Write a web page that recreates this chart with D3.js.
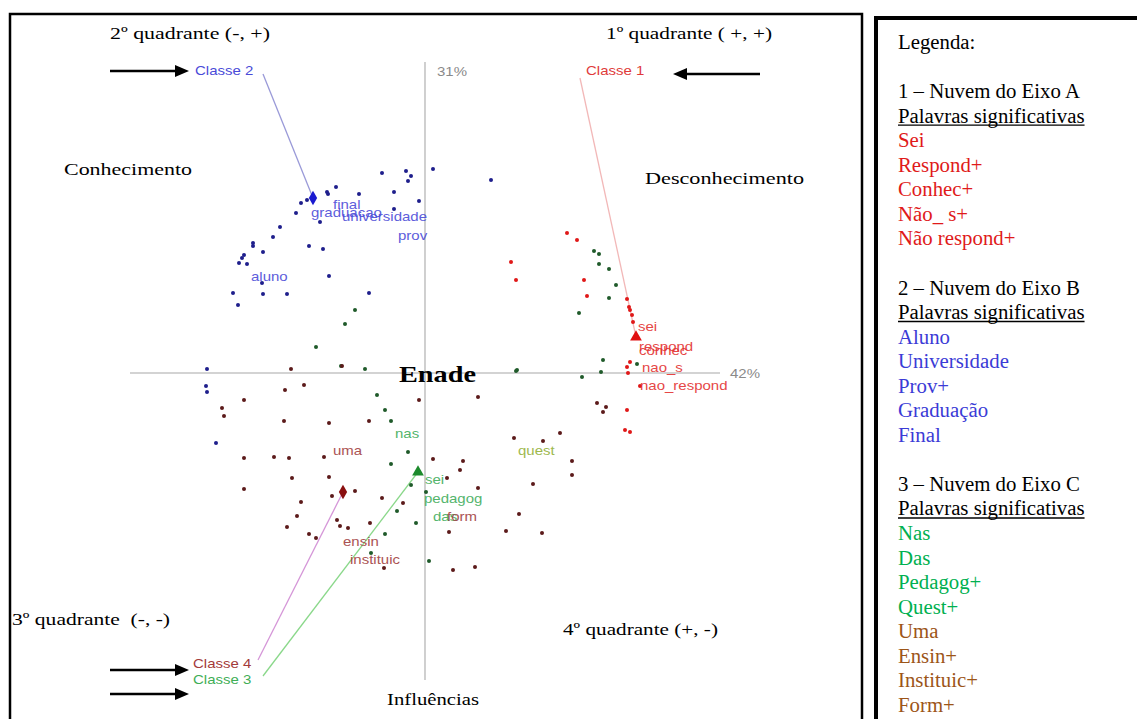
<!DOCTYPE html>
<html><head><meta charset="utf-8">
<script src="https://cdn.jsdelivr.net/npm/d3@7"></script>
<style>
html,body{margin:0;padding:0;background:#fff;}
svg{display:block;}
</style></head>
<body>
<svg id="c" width="1137" height="719"></svg>
<script>
// ---------- DATA (factor plane coordinates) ----------
const class1Points = [[142,140],[152,133],[86,111],[91,93],[159,93],[162,77],[202,74],[204,66],[205,63],[207,58],[208,51],[205,11],[202,6],[203,0],[215,-13],[202,-37],[200,-57],[205,-59]];
const class2Points = [[-43,200],[-19,202],[-14,197],[-17,192],[8,204],[66,193],[-89,186],[-98,181],[-97,179],[-66,179],[-31,181],[-6,172],[-118,173],[-124,170],[-129,160],[-105,151],[-31,164],[-145,146],[-152,136],[-172,130],[-172,127],[-162,121],[-181,118],[-183,115],[-186,110],[-178,109],[-116,127],[-102,124],[-96,97],[-163,90],[-192,80],[-162,79],[-138,79],[-56,80],[-187,68],[-218,4],[-219,-13],[-218,-19],[-209,-70]];
const class3Points = [[-70,63],[-80,49],[-109,26],[-84,7],[-60,4],[-48,-22],[-40,-37],[-34,-48],[-17,-79],[-34,-91],[-14,-112],[-28,-138],[-40,-161],[-54,-180],[4,-188],[1,-119],[-9,-150],[92,3],[169,122],[174,119],[174,109],[184,104],[191,88],[184,75],[154,60],[178,13],[212,9],[91,2],[157,-4],[176,1]];
const class4Points = [[-134,4],[-83,7],[-140,-17],[-121,-12],[-181,-27],[-6,-27],[-203,-35],[-201,-43],[-141,-48],[-96,-50],[-56,-48],[53,-24],[-181,-85],[-151,-84],[-136,-85],[-101,-84],[8,-86],[38,-88],[35,-97],[-133,-105],[-96,-104],[53,-115],[-181,-116],[-93,-123],[-70,-118],[-43,-125],[-22,-130],[-124,-129],[-128,-143],[-88,-147],[-85,-153],[-77,-155],[-55,-150],[-138,-154],[-116,-161],[-109,-165],[24,-159],[-41,-195],[28,-197],[50,-194],[22,-105],[89,-65],[118,-68],[135,-60],[147,-88],[147,-102],[108,-111],[94,-141],[81,-158],[117,-160],[172,-30],[181,-34],[178,-39]];

const classNames = ["Classe 1","Classe 2","Classe 3","Classe 4"];
const classCenters = [[211,36],[-112,175],[-7,-99],[-82,-119]];
const classLabelPos = [[161,298],[-230,298],[-232,-311],[-232,-295]];
const classLineStart = [[155,295],[-162,299],[-162,-303],[-167,-287]];

const class1Words = ["sei","respond","conhec","nao_s","nao_respond"];
const class1WordPos = [[213,42],[214,22],[214,18],[217,1],[215,-17]];
const class2Words = ["final","graduacao","universidade","prov","aluno"];
const class2WordPos = [[-92,164],[-114,156],[-83,152],[-27,133],[-174,92]];
const class3Words = ["nas","sei","pedagog","das","quest"];
const class3WordPos = [[-30,-65],[0,-111],[-1,-130],[8,-148],[93,-82]];
const class4Words = ["uma","ensin","instituic","form"];
const class4WordPos = [[-92,-82],[-82,-173],[-75,-191],[22,-148]];

const axisPercent = ["42%","31%"];

const legendTitle = "Legenda:";
const legendGroups = ["1 – Nuvem do Eixo A","2 – Nuvem do Eixo B","3 – Nuvem do Eixo C"];
const legendSub = "Palavras significativas";
const legendWordsA = ["Sei","Respond+","Conhec+","Não_ s+","Não respond+"];
const legendWordsB = ["Aluno","Universidade","Prov+","Graduação","Final"];
const legendWordsCgreen = ["Nas","Das","Pedagog+","Quest+"];
const legendWordsCbrown = ["Uma","Ensin+","Instituic+","Form+"];

const quadrantTexts = ["1º quadrante ( +, +)","2º quadrante (-, +)","3º quadrante  (-, -)","4º quadrante (+, -)"];
const axisNames = ["Conhecimento","Desconhecimento","Influências","Enade"];

// ---------- DRAW ----------
const svg = d3.select("#c");
const x = d3.scaleLinear().domain([-300,300]).range([125,725]);
const y = d3.scaleLinear().domain([-310,310]).range([683,63]);

const SANS = "'Liberation Sans', Arial, sans-serif";
const SERIF = "'Liberation Serif', 'Times New Roman', serif";

// chart box
svg.append("rect").attr("x",10).attr("y",14).attr("width",852).attr("height",760)
  .attr("fill","none").attr("stroke","#000").attr("stroke-width",2.5);
// legend box
svg.append("rect").attr("x",876).attr("y",18).attr("width",300).attr("height",760)
  .attr("fill","none").attr("stroke","#000").attr("stroke-width",4);

// axes
svg.append("line").attr("x1",x(0)).attr("x2",x(0)).attr("y1",y(311)).attr("y2",y(-307))
  .attr("stroke","#c4c4c4").attr("stroke-width",1.6);
svg.append("line").attr("x1",x(-295)).attr("x2",x(295)).attr("y1",y(0)).attr("y2",y(0))
  .attr("stroke","#c4c4c4").attr("stroke-width",1.6);

function sText(px,py,txt,size,color,weight){
  return svg.append("text").attr("transform",`translate(${px},${py}) scale(1.2,1)`)
    .attr("font-family",SANS).attr("font-size",size).attr("fill",color)
    .attr("font-weight",weight||"normal").style("white-space","pre").text(txt);
}
sText(x(305),y(-5),axisPercent[0],12.5,"#8a8a8a");
sText(x(12),y(297),axisPercent[1],12.5,"#8a8a8a");

// class lines
const classColors = ["#e03a3a","#4a4ad8","#3fae56","#a33a3a"];
const lineColors = ["#f2b8b8","#9a9ad8","#8ad88a","#d596d8"];
classLineStart.forEach((s,i)=>{
  svg.append("line").attr("x1",x(s[0])).attr("y1",y(s[1]))
    .attr("x2",x(classCenters[i][0])).attr("y2",y(classCenters[i][1]))
    .attr("stroke",lineColors[i]).attr("stroke-width",1.3);
});

// points
const dotColors = ["#e01818","#1e1e8c","#1f5a2a","#5c1a1a"];
[class1Points,class2Points,class3Points,class4Points].forEach((pts,i)=>{
  svg.append("g").selectAll("circle").data(pts).join("circle")
    .attr("cx",d=>x(d[0])).attr("cy",d=>y(d[1])).attr("r",2)
    .attr("fill",dotColors[i]);
});

// class centers
const centerSymbols = [d3.symbolTriangle,d3.symbolDiamond,d3.symbolTriangle,d3.symbolDiamond];
const centerColors = ["#e01010","#1a1ad0","#1c8a2c","#8a0f0f"];
classCenters.forEach((c,i)=>{
  svg.append("path").attr("d",d3.symbol().type(centerSymbols[i]).size(60)())
    .attr("transform",`translate(${x(c[0])},${y(c[1])})`).attr("fill",centerColors[i]);
});

// class labels
classNames.forEach((n,i)=>{
  sText(x(classLabelPos[i][0]),y(classLabelPos[i][1]),n,12.5,classColors[i]);
});

// word labels
function words(ws,pos,color){
  ws.forEach((w,i)=>sText(x(pos[i][0]),y(pos[i][1]),w,12.5,typeof color==="function"?color(i):color).attr("opacity",0.9));
}
words(class1Words,class1WordPos,"#e43232");
words(class2Words,class2WordPos,"#4c4cd8");
words(class3Words,class3WordPos,i=> i===4 ? "#94b23a" : "#42ad5c");
words(class4Words,class4WordPos,"#a34242");

// serif annotations
function serif(px,py,txt,size,len,weight){
  svg.append("text").attr("x",px).attr("y",py).attr("font-family",SERIF)
    .attr("font-size",size).attr("font-weight",weight||"normal").attr("fill","#000")
    .attr("textLength",len).attr("lengthAdjust","spacingAndGlyphs")
    .style("white-space","pre").text(txt);
}
serif(606,39,quadrantTexts[0],17,166);
serif(110,39,quadrantTexts[1],17,160);
serif(12,625,quadrantTexts[2],17,158);
serif(563,635,quadrantTexts[3],17,155);
serif(64,175,axisNames[0],17,128);
serif(645,184,axisNames[1],17,159);
serif(387,705,axisNames[2],17,92);
serif(399,382,axisNames[3],24,77,"bold");

// arrows
function arrow(x1,x2,yy){
  const dir = x2>x1?1:-1;
  const hx = x2 - dir*14;
  svg.append("line").attr("x1",x1).attr("x2",hx).attr("y1",yy).attr("y2",yy)
    .attr("stroke","#000").attr("stroke-width",2.4);
  svg.append("path").attr("d",`M${x2},${yy} L${hx},${yy-6} L${hx},${yy+6} Z`).attr("fill","#000");
}
arrow(110,189,71);
arrow(760,673,74);
arrow(110,189,670);
arrow(110,189,694);

// legend
const LX = 898, L0 = 49, LS = 24.55;
function lg(i,txt,color,under){
  const t = svg.append("text").attr("x",LX).attr("y",L0+i*LS).attr("font-family",SERIF)
    .attr("font-size",20.8).attr("fill",color).text(txt);
  if(under){
    const w = t.node().getComputedTextLength();
    svg.append("line").attr("x1",LX).attr("x2",LX+w).attr("y1",L0+i*LS+2.5).attr("y2",L0+i*LS+2.5)
      .attr("stroke","#000").attr("stroke-width",1.4);
  }
}
const RED="#e01a1a", BLUE="#3b3bd6", GREEN="#00b050", BROWN="#9c5518";
lg(0,legendTitle,"#000");
lg(2,legendGroups[0],"#000"); lg(3,legendSub,"#000",true);
legendWordsA.forEach((w,i)=>lg(4+i,w,RED));
lg(10,legendGroups[1],"#000"); lg(11,legendSub,"#000",true);
legendWordsB.forEach((w,i)=>lg(12+i,w,BLUE));
lg(18,legendGroups[2],"#000"); lg(19,legendSub,"#000",true);
legendWordsCgreen.forEach((w,i)=>lg(20+i,w,GREEN));
legendWordsCbrown.forEach((w,i)=>lg(24+i,w,BROWN));
</script>
</body></html>
